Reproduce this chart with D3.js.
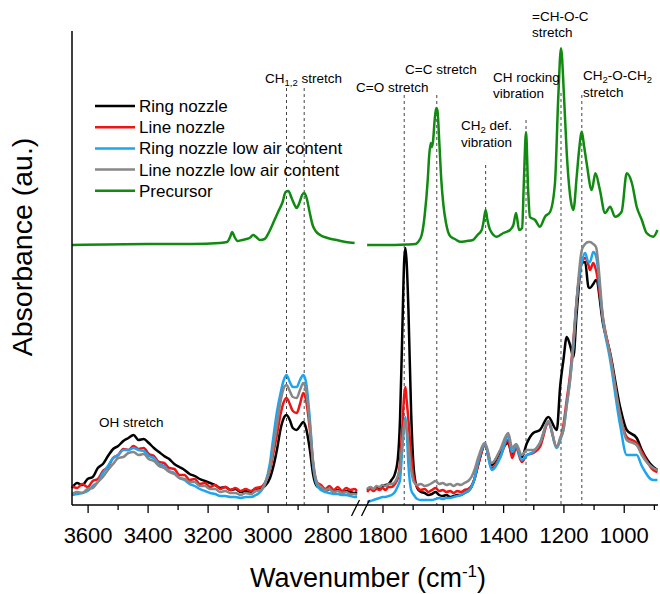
<!DOCTYPE html>
<html><head><meta charset="utf-8">
<script src="https://cdn.jsdelivr.net/npm/d3@7/dist/d3.min.js"></script>
<style>
body{margin:0;background:#fff}
text{font-family:"Liberation Sans",Arial,Helvetica,sans-serif;fill:#000}
</style>
</head><body>
<svg id="chart" width="660" height="594"></svg>
<script>
// ---------- DATA ----------
const wnLeft = [3652,3635,3618,3600,3583,3566,3549,3532,3515,3498,3481,3464,3447,3430,3413,3396,3379,3362,3345,3328,3311,3294,3277,3260,3243,3226,3209,3192,3175,3158,3141,3124,3107,3090,3073,3056,3039,3022,
  3009,2992,2982,2969,2956,2946,2937,2926,2916,2903,2892,2881,2872,2859,2848,2836,
  2822,2808,2794,2780,2766,2752,2738,2724,2710,2702];
const ringLeft = [.17,.22,.20,.26,.28,.37,.41,.49,.56,.59,.64,.67,.70,.65,.66,.62,.57,.53,.49,.46,.41,.38,.35,.31,.29,.26,.24,.22,.20,.17,.18,.15,.16,.13,.14,.12,.15,.16,
  .19,.27,.37,.55,.77,.87,.90,.85,.77,.75,.79,.83,.77,.55,.30,.19,
  .17,.14,.16,.13,.15,.12,.14,.13,.12,.13];
const lineLeft = [.19,.17,.21,.18,.24,.26,.34,.38,.47,.50,.56,.55,.59,.56,.57,.51,.49,.43,.42,.37,.36,.30,.30,.25,.26,.21,.22,.18,.20,.16,.18,.15,.17,.14,.16,.14,.17,.18,
  .22,.35,.50,.70,.92,1.03,1.07,1.01,.94,.92,1.01,1.12,1.05,.75,.40,.23,
  .20,.16,.19,.15,.18,.14,.17,.15,.16,.14];
const ringLowLeft = [.10,.11,.12,.14,.19,.23,.32,.39,.47,.50,.55,.55,.57,.55,.54,.49,.47,.41,.39,.34,.32,.27,.25,.21,.19,.16,.14,.12,.11,.09,.09,.08,.08,.07,.08,.08,.10,.14,
  .21,.42,.65,.93,1.13,1.25,1.30,1.23,1.18,1.18,1.25,1.30,1.23,.85,.40,.20,
  .15,.13,.12,.11,.11,.10,.10,.09,.08,.08];
const lineLowLeft = [.11,.13,.12,.16,.17,.23,.28,.35,.41,.47,.48,.52,.53,.50,.51,.46,.44,.39,.37,.33,.31,.27,.26,.23,.23,.19,.19,.16,.16,.13,.14,.12,.12,.10,.12,.11,.14,.15,
  .21,.37,.55,.80,1.05,1.17,1.20,1.14,1.08,1.07,1.15,1.22,1.15,.80,.43,.23,
  .18,.15,.16,.13,.14,.12,.13,.11,.11,.10];

const wnRight = [1851,1840,1830,1820,1810,1800,1790,1780,1770,1759,1749,
  1742,1735,1728,1724,1720,1714,1705,1696,
  1685,1673,1660,1648,1636,1624,1612,1600,1588,1576,1564,1552,1540,1528,1516,1505,1495,
  1483,1460,1438,1410,1383,1370,1357,1338,1321,1300,1278,1250,1222,1211,1200,1189,1178,1167,1156,1139,1128,1117,1112,1101,1092,1068,1045,1012,990,957,940,902,888];
const ringRight = [.15,.17,.15,.18,.17,.19,.20,.21,.25,.31,.47,
  .85,1.65,2.45,2.57,2.43,1.95,.92,.35,
  .17,.13,.12,.10,.11,.13,.10,.09,.10,.08,.09,.10,.10,.12,.14,.18,.26,
  .40,.60,.40,.53,.62,.50,.58,.48,.62,.72,.75,.88,.75,1.18,1.45,1.68,1.60,1.48,1.92,2.42,2.43,2.18,2.17,2.21,2.25,1.80,1.52,.98,.75,.67,.55,.38,.35];
const lineRight = [.13,.16,.14,.16,.15,.17,.15,.18,.18,.21,.27,
  .42,.75,1.10,1.18,1.05,.85,.50,.27,
  .18,.15,.16,.13,.15,.17,.14,.15,.13,.14,.12,.14,.13,.15,.16,.19,.26,
  .40,.60,.37,.48,.65,.47,.57,.43,.50,.52,.58,.82,.58,.65,.80,1.05,1.30,1.65,2.05,2.43,2.47,2.40,2.35,2.42,2.35,1.85,1.50,.90,.68,.62,.53,.35,.33];
const ringLowRight = [.03,.04,.05,.06,.07,.08,.08,.09,.10,.13,.19,
  .25,.53,.80,.88,.75,.40,.15,.10,
  .06,.05,.05,.05,.05,.06,.07,.06,.07,.07,.08,.09,.10,.12,.14,.18,.26,
  .43,.60,.35,.47,.69,.53,.59,.45,.50,.53,.62,.83,.57,.65,.75,1.00,1.25,1.60,2.05,2.43,2.52,2.43,2.43,2.53,2.49,1.83,1.45,.80,.50,.50,.39,.25,.25];
const lineLowRight = [.16,.18,.16,.19,.18,.20,.19,.21,.21,.23,.29,
  .37,.60,.80,.85,.77,.60,.35,.23,
  .20,.21,.19,.20,.22,.24,.21,.22,.20,.21,.19,.21,.20,.22,.24,.28,.35,
  .47,.62,.42,.55,.72,.57,.61,.50,.55,.55,.62,.84,.58,.67,.75,1.00,1.25,1.60,2.05,2.55,2.61,2.63,2.63,2.61,2.58,1.85,1.50,.90,.65,.60,.50,.37,.35];

const precWnLeft = [3652,3400,3250,3160,3135,3125,3118,3110,3100,3085,3070,3060,3048,3038,3025,3010,2995,2980,2965,2950,2940,2931,2920,2910,2903,2893,2885,2878,2870,2860,2850,2840,2825,2800,2770,2740,2710];
const precLeft = [2.60,2.61,2.61,2.62,2.63,2.68,2.73,2.68,2.64,2.65,2.66,2.67,2.70,2.68,2.65,2.66,2.73,2.83,2.93,3.03,3.13,3.14,3.07,3.00,2.97,3.03,3.10,3.12,3.07,2.93,2.80,2.74,2.70,2.67,2.65,2.63,2.62];
const precWnRight = [1851,1800,1720,1690,1682,1670,1660,1650,1645,1640,1636,1632,1627,1622,1618,1612,1605,1598,1590,1576,1560,1543,1520,1500,1485,1471,1465,1458,1452,1443,1421,1399,1377,1366,1357,1347,1337,1331,1324,1317,1311,1294,1278,1261,1244,1228,1217,1208,1198,1189,1178,1167,1156,1148,1139,1132,1123,1106,1094,1079,1062,1045,1029,1007,990,973,957,940,924,902,888];
const precRight = [2.60,2.60,2.605,2.61,2.63,2.70,2.90,3.25,3.50,3.62,3.58,3.65,3.85,3.97,3.95,3.65,3.25,3.00,2.83,2.69,2.66,2.633,2.64,2.65,2.70,2.75,2.83,2.95,2.85,2.75,2.683,2.72,2.75,2.80,2.92,2.75,2.77,3.25,3.73,3.15,2.88,2.85,2.783,2.883,2.933,3.22,4.083,4.567,4.083,3.52,3.10,2.95,3.283,3.55,3.733,3.60,3.42,3.15,3.317,3.15,2.92,2.983,2.883,2.933,3.317,3.22,2.983,2.85,2.72,2.683,2.75];

const seriesNames = ["Ring nozzle","Line nozzle","Ring nozzle low air content","Line nozzle low air content","Precursor"];
const seriesColors = ["#000000","#f01414","#1ea5f0","#878787","#118a11"];

const majorTicksLeft = [3600,3400,3200,3000,2800];
const minorTicksLeft = [3500,3300,3100,2900];
const majorTicksRight = [1800,1600,1400,1200,1000];
const minorTicksRight = [1700,1500,1300,1100,900];

// band marker lines: wavenumber, segment, top (absorbance units)
const bandWn = [2937,2878,1728,1620,1458,1324,1208,1139];
const bandSeg = ["L","L","R","R","R","R","R","R"];
const bandTop = [4.17,4.17,4.10,4.10,3.40,3.85,4.12,4.10];

// ---------- CHART ----------
const svg = d3.select("#chart");
const xL = d3.scaleLinear().domain([3652,2700]).range([72,357.6]);
const xR = d3.scaleLinear().domain([1868,888]).range([362,657.5]);
const y = d3.scaleLinear().domain([0,4.74]).range([505,31]);
const axisY = 505;

// dashed band lines
bandWn.forEach((w,i)=>{
  const sx = bandSeg[i]==="L"?xL:xR;
  svg.append("line").attr("x1",sx(w)).attr("x2",sx(w))
    .attr("y1",y(bandTop[i])).attr("y2",y(0))
    .attr("stroke","#444").attr("stroke-width",1).attr("stroke-dasharray","3,3");
});

function drawSeries(wns, vals, sx, color, w){
  const pts = wns.map((d,i)=>[d, vals[i]]);
  svg.append("path").datum(pts)
    .attr("fill","none").attr("stroke",color).attr("stroke-width",w)
    .attr("stroke-linejoin","round")
    .attr("d", d3.line().x(d=>sx(d[0])).y(d=>y(d[1])).curve(d3.curveMonotoneX));
}
const leftSets = [ringLeft,lineLeft,ringLowLeft,lineLowLeft];
const rightSets = [ringRight,lineRight,ringLowRight,lineLowRight];
leftSets.forEach((s,i)=>drawSeries(wnLeft,s,xL,seriesColors[i],2.5));
rightSets.forEach((s,i)=>drawSeries(wnRight,s,xR,seriesColors[i],2.5));
drawSeries(precWnLeft,precLeft,xL,seriesColors[4],2.5);
drawSeries(precWnRight,precRight,xR,seriesColors[4],2.5);

// axes lines
svg.append("line").attr("x1",72).attr("x2",72).attr("y1",31).attr("y2",axisY).attr("stroke","#000").attr("stroke-width",1.5);
svg.append("line").attr("x1",72).attr("x2",658).attr("y1",axisY).attr("y2",axisY).attr("stroke","#000").attr("stroke-width",1.5);

function ticks(sx, majors, minors){
  const gM = svg.append("g").attr("transform",`translate(0,${axisY})`)
    .call(d3.axisBottom(sx).tickValues(majors).tickSize(8).tickPadding(14).tickFormat(d3.format("d")));
  gM.select(".domain").remove();
  gM.selectAll("line").attr("stroke","#000").attr("stroke-width",1.3);
  gM.selectAll("text").style("font-size","22px");
  const gm = svg.append("g").attr("transform",`translate(0,${axisY})`)
    .call(d3.axisBottom(sx).tickValues(minors.filter(v=>v<=sx.domain()[0]&&v>=sx.domain()[1])).tickSize(5).tickFormat(""));
  gm.select(".domain").remove();
  gm.selectAll("line").attr("stroke","#000").attr("stroke-width",1.3);
}
ticks(xL, majorTicksLeft, minorTicksLeft);
ticks(xR, majorTicksRight, minorTicksRight);

// axis break marks
[355.5,365.5].forEach(cx=>{
  svg.append("line").attr("x1",cx-4).attr("y1",axisY+11).attr("x2",cx+4).attr("y2",axisY-5)
    .attr("stroke","#000").attr("stroke-width",1.3);
});

// axis titles
const xt = svg.append("text").attr("x",368).attr("y",587).attr("text-anchor","middle").style("font-size","27px");
xt.append("tspan").text("Wavenumber (cm");
xt.append("tspan").attr("dy",-10).style("font-size","17px").text("-1");
xt.append("tspan").attr("dy",10).text(")");
svg.append("text").attr("transform","translate(32,247) rotate(-90)").attr("text-anchor","middle")
  .style("font-size","28.5px").text("Absorbance (au.)");

// legend
seriesNames.forEach((n,i)=>{
  const ly = 106 + i*21.2;
  svg.append("line").attr("x1",95).attr("x2",135).attr("y1",ly).attr("y2",ly)
    .attr("stroke",seriesColors[i]).attr("stroke-width",2.5);
  svg.append("text").attr("x",139).attr("y",ly+6).style("font-size","17px").text(n);
});

// annotations (parts: plain text or subscript)
function ann(x, yb, parts){
  const t = svg.append("text").attr("x",x).attr("y",yb).style("font-size","13.5px");
  let down = false;
  parts.forEach(p=>{
    if(p.sub!==undefined){
      t.append("tspan").attr("dy",down?0:3).style("font-size","9.5px").text(p.sub); down=true;
    } else {
      t.append("tspan").attr("dy",down?-3:0).text(p.t); down=false;
    }
  });
}
ann(99,427,[{t:"OH stretch"}]);
ann(265,83,[{t:"CH"},{sub:"1,2"},{t:" stretch"}]);
ann(356,92,[{t:"C=O stretch"}]);
ann(405,74,[{t:"C=C stretch"}]);
ann(461,130,[{t:"CH"},{sub:"2"},{t:" def."}]);
ann(461,147,[{t:"vibration"}]);
ann(493,82,[{t:"CH rocking"}]);
ann(493,98,[{t:"vibration"}]);
ann(532,21,[{t:"=CH-O-C"}]);
ann(532,37,[{t:"stretch"}]);
ann(583,80,[{t:"CH"},{sub:"2"},{t:"-O-CH"},{sub:"2"}]);
ann(583,97,[{t:"stretch"}]);
</script>
</body></html>
